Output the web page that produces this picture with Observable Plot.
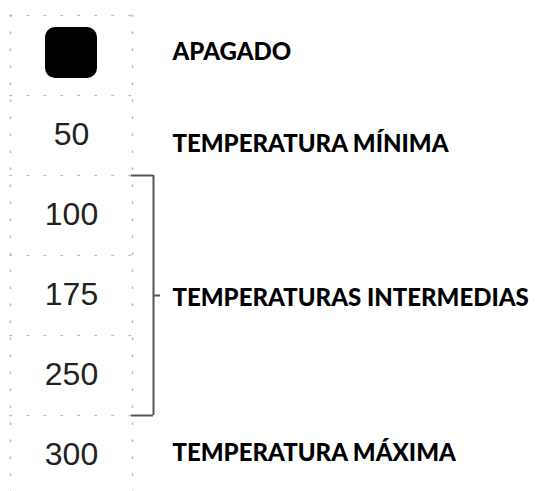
<!DOCTYPE html>
<html><head><meta charset="utf-8">
<script src="https://cdn.jsdelivr.net/npm/d3@7"></script>
<script src="https://cdn.jsdelivr.net/npm/@observablehq/plot@0.6"></script>
<style>body{margin:0;background:#fff}</style>
</head><body><div id="chart"></div>
<script>
// Dial settings, one per row (row 0 = "off" shown as a black square)
const settings = ["OFF", "50", "100", "175", "250", "300"];
const settingRow = [0, 1, 2, 3, 4, 5];
// Descriptions and the rows they cover
const descriptions = ["APAGADO", "TEMPERATURA MÍNIMA", "TEMPERATURAS INTERMEDIAS", "TEMPERATURA MÁXIMA"];
const descFrom = [0, 1, 2, 5];
const descTo = [1, 2, 5, 6];

const rows = settings.map((s, i) => ({label: s, row: settingRow[i]}));
const groups = descriptions.map((d, i) => ({label: d, from: descFrom[i], to: descTo[i]}));
const brackets = groups.filter(g => g.to - g.from > 1);
const boundaries = d3.range(0, settings.length + 1);

// layout (pixels)
const colL = 10, colR = 132, brX = 153, brTick = 160, labelX = 172;
const labelNudge = [-3, 9, 3, -2];
const dotted = {stroke: "#bdbdbd", strokeWidth: 1.6, strokeDasharray: "1.5 15.5", strokeLinecap: "round"};

const chart = Plot.plot({
  width: 550, height: 491,
  margin: 0,
  x: {domain: [0, 550], range: [0, 550], axis: null},
  y: {domain: [0, 6], range: [15, 495], axis: null},
  marks: [
    Plot.ruleY(boundaries, {y: d => d, x1: colL, x2: colR, ...dotted}),
    Plot.ruleX([colL, colR], {x: d => d, y1: 0, y2: 6, ...dotted}),
    Plot.rect(rows.filter(d => d.label === "OFF"), {x1: colL, x2: colR, y1: d => d.row, y2: d => d.row + 1,
      insetLeft: 35, insetRight: 35, insetTop: 12, insetBottom: 17, rx: 10, fill: "#000"}),
    Plot.text(rows.filter(d => d.label !== "OFF"), {x: (colL + colR) / 2, y: d => d.row + 0.5, text: "label",
      fontSize: 32, fontFamily: "Liberation Sans", fill: "#222", dy: -1}),
    Plot.ruleY(brackets.flatMap(b => [b.from, b.to]), {y: d => d, x1: colR - 1, x2: brX, stroke: "#555", strokeWidth: 2}),
    Plot.ruleX(brackets, {x: brX, y1: "from", y2: "to", stroke: "#555", strokeWidth: 2}),
    Plot.ruleY(brackets, {y: d => (d.from + d.to) / 2, x1: brX, x2: brTick, stroke: "#555", strokeWidth: 2}),
    ...groups.map((g, i) => Plot.text([g], {x: labelX, y: d => (d.from + d.to) / 2, text: "label", textAnchor: "start",
      dy: labelNudge[i], fontSize: 24, fontWeight: 900, fontFamily: "Lato", fill: "#000"}))
  ]
});
document.getElementById("chart").appendChild(chart);
</script>
</body></html>
